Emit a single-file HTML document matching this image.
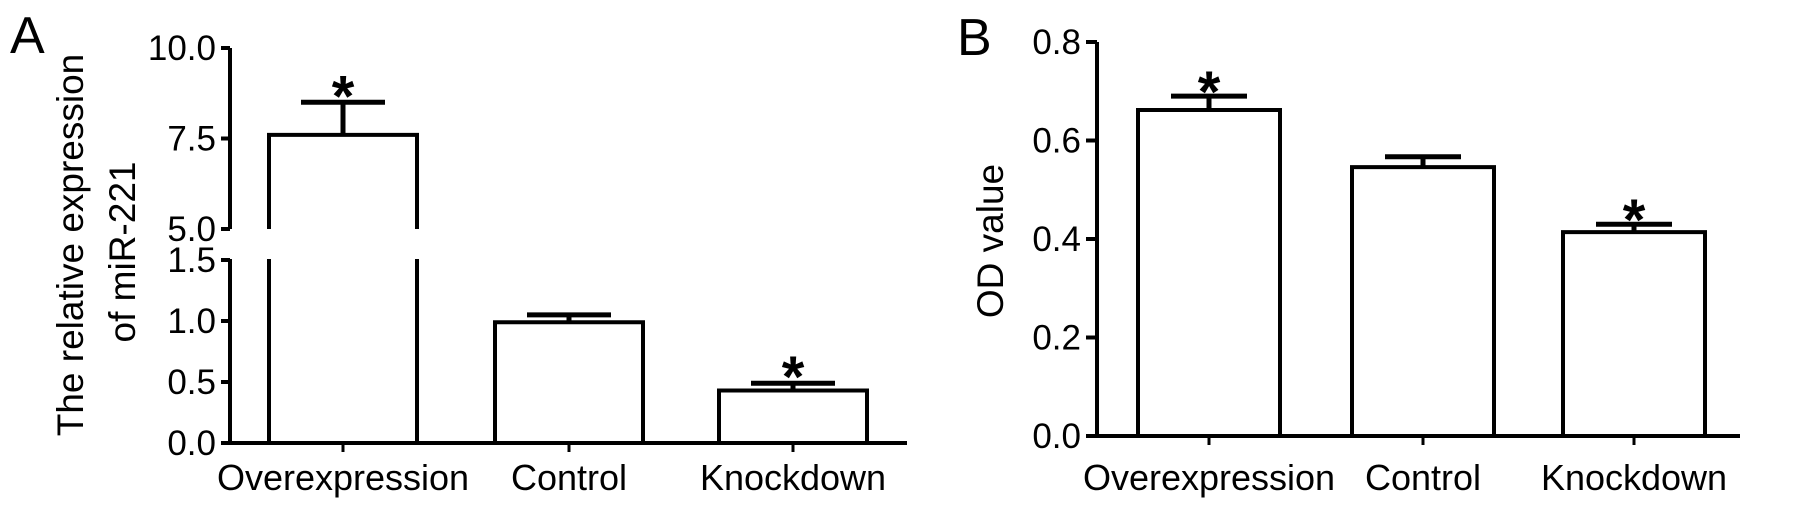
<!DOCTYPE html>
<html><head><meta charset="utf-8"><style>
html,body{margin:0;padding:0;background:#fff;}
svg{display:block;font-family:"Liberation Sans",Arial,sans-serif;}
</style></head><body>
<svg id="chart" width="1795" height="509" viewBox="0 0 1795 509">
<text x="10" y="53" font-size="52">A</text>
<text x="957" y="55" font-size="52">B</text>
<g id="pa"></g>
<g id="pb"></g>
</svg>
<script>
const categories = ["Overexpression","Control","Knockdown"];
const aValues = [7.6, 0.99, 0.43];
const aErrors = [0.9, 0.06, 0.06];
const aSig = [true, false, true];
const aTicksLow = ["0.0","0.5","1.0","1.5"];
const aTicksHigh = ["5.0","7.5","10.0"];
const bValues = [0.662, 0.546, 0.414];
const bErrors = [0.028, 0.021, 0.016];
const bSig = [true, false, true];
const bTicks = ["0.0","0.2","0.4","0.6","0.8"];

const NS="http://www.w3.org/2000/svg";
function mk(parent,tag,attrs){const e=document.createElementNS(NS,tag);for(const k in attrs)e.setAttribute(k,attrs[k]);parent.appendChild(e);return e;}
function line(p,x1,y1,x2,y2,w){return mk(p,"line",{x1,y1,x2,y2,stroke:"#000","stroke-width":w||4});}

// Panel A: broken axis
const pa=document.getElementById("pa");
function ayA(v){ if(v<=1.5) return 443 - v/0.5*61; return 229 - (v-5)/2.5*90.5; }
const axA=230, baseA=443;
line(pa,axA,48,axA,229);
line(pa,axA,259,axA,baseA+2);
line(pa,axA-2,baseA,907,baseA);
aTicksLow.concat(aTicksHigh).forEach(t=>{
  const y=ayA(parseFloat(t));
  const tk=line(pa,221,y,axA,y);
  
  
  const tx=mk(pa,"text",{x:216,y:y+12,"font-size":35,"text-anchor":"end"});
  tx.textContent=t;
  
  
});
const yt=mk(pa,"text",{transform:"translate(83,245) rotate(-90)","font-size":37,"text-anchor":"middle"});
yt.textContent="The relative expression";


const yt2=mk(pa,"text",{transform:"translate(135,252) rotate(-90)","font-size":37,"text-anchor":"middle"});
yt2.textContent="of miR-221";


const centersA=[343,569,793], bwA=148;
categories.forEach((c,i)=>{
  const cx=centersA[i], v=aValues[i], y=ayA(v), l=cx-bwA/2, r=cx+bwA/2;
  const g=mk(pa,"g",{});
  
  
  if(v>5){
    mk(g,"path",{d:`M${l},229 L${l},${y} L${r},${y} L${r},229`,fill:"none",stroke:"#000","stroke-width":4});
    line(g,l,259,l,baseA); line(g,r,259,r,baseA);
  } else {
    mk(g,"path",{d:`M${l},${baseA} L${l},${y} L${r},${y} L${r},${baseA}`,fill:"none",stroke:"#000","stroke-width":4});
  }
  const ey=ayA(v+aErrors[i]);
  const eb=mk(g,"path",{d:`M${cx},${y} L${cx},${ey} M${cx-42},${ey} L${cx+42},${ey}`,stroke:"#000","stroke-width":5,fill:"none"});
  
  
  line(pa,cx,baseA,cx,baseA+9,3);
  const lb=mk(pa,"text",{x:cx,y:490,"font-size":36,"text-anchor":"middle"});
  lb.textContent=c;
  
  
  if(aSig[i]){const s=mk(pa,"text",{x:cx,y:ey+14,"font-size":58,"font-weight":"bold","text-anchor":"middle"});s.textContent="*";
    
    }
});

// Panel B
const pb=document.getElementById("pb");
function ayB(v){return 436 - v/0.2*98.5;}
const axB=1097, baseB=436;
line(pb,axB,ayB(0.8),axB,baseB+2);
line(pb,axB-2,baseB,1740,baseB);
bTicks.forEach(t=>{
  const y=ayB(parseFloat(t));
  const tk=line(pb,1086,y,axB,y);
  
  
  const tx=mk(pb,"text",{x:1081,y:y+12,"font-size":35,"text-anchor":"end"});
  tx.textContent=t;
  
  
});
const ybt=mk(pb,"text",{transform:"translate(1003,241) rotate(-90)","font-size":37,"text-anchor":"middle"});
ybt.textContent="OD value";


const centersB=[1209,1423,1634], bwB=142;
categories.forEach((c,i)=>{
  const cx=centersB[i], v=bValues[i], y=ayB(v), l=cx-bwB/2, r=cx+bwB/2;
  const g=mk(pb,"g",{});
  
  
  mk(g,"path",{d:`M${l},${baseB} L${l},${y} L${r},${y} L${r},${baseB}`,fill:"none",stroke:"#000","stroke-width":4});
  const ey=ayB(v+bErrors[i]);
  const eb=mk(g,"path",{d:`M${cx},${y} L${cx},${ey} M${cx-38},${ey} L${cx+38},${ey}`,stroke:"#000","stroke-width":5,fill:"none"});
  
  
  line(pb,cx,baseB,cx,baseB+9,3);
  const lb=mk(pb,"text",{x:cx,y:490,"font-size":36,"text-anchor":"middle"});
  lb.textContent=c;
  
  
  if(bSig[i]){const s=mk(pb,"text",{x:cx,y:ey+16,"font-size":58,"font-weight":"bold","text-anchor":"middle"});s.textContent="*";
    
    }
});
</script>
</body></html>
